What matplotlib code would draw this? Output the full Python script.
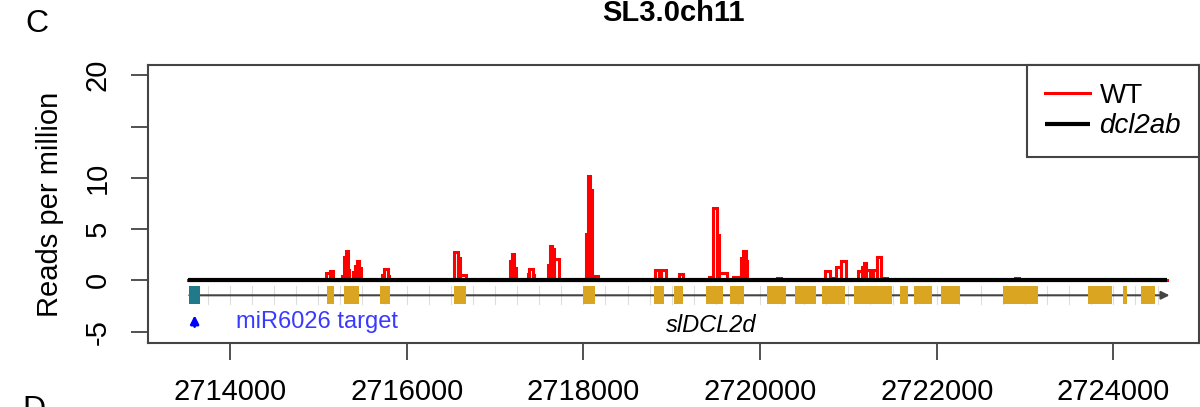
import matplotlib
matplotlib.use("Agg")
import matplotlib.pyplot as plt
import numpy as np

plt.rcParams["font.family"] = ["Liberation Sans", "DejaVu Sans"]

# WT coverage (reads per million) as step segments
wt_start = [2715090, 2715130, 2715270, 2715290, 2715310, 2715335, 2715395, 2715420, 2715440, 2715465,
            2715720, 2715740, 2715790, 2716536, 2716580, 2716600, 2717170, 2717190, 2717215,
            2717370, 2717385, 2717430, 2717600, 2717620, 2717650, 2717670,
            2718030, 2718050, 2718070, 2718100, 2718811, 2718860, 2718880, 2719085,
            2719420, 2719464, 2719517, 2719540, 2719690, 2719780, 2719810, 2719836,
            2720188, 2720300, 2720735, 2720790, 2720865, 2720920,
            2721112, 2721150, 2721177, 2721200, 2721280, 2721320, 2721370,
            2721520, 2721715, 2722890]
wt_end = [2715130, 2715170, 2715290, 2715310, 2715335, 2715350, 2715420, 2715440, 2715465, 2715480,
          2715740, 2715790, 2715805, 2716580, 2716600, 2716670, 2717190, 2717215, 2717240,
          2717385, 2717430, 2717445, 2717620, 2717650, 2717670, 2717720,
          2718050, 2718070, 2718100, 2718170, 2718860, 2718880, 2718930, 2719125,
          2719464, 2719517, 2719540, 2719630, 2719780, 2719810, 2719836, 2719855,
          2720240, 2720315, 2720790, 2720865, 2720920, 2720975,
          2721150, 2721177, 2721200, 2721245, 2721320, 2721370, 2721440,
          2721540, 2721730, 2722930]
wt_rpm = [0.7, 0.95, 0.4, 2.3, 2.9, 1.0, 0.8, 1.4, 1.85, 1.2,
          0.5, 1.1, 0.4, 2.8, 2.2, 0.5, 1.9, 2.6, 1.2,
          0.6, 1.1, 0.5, 1.5, 3.4, 3.1, 2.1,
          4.5, 10.2, 8.8, 0.4, 1.05, 0.5, 1.0, 0.6,
          0.35, 7.1, 4.45, 0.7, 0.3, 2.2, 2.9, 1.9,
          0.2, 0.15, 0.9, 0.2, 1.3, 1.85,
          0.9, 1.3, 1.7, 1.0, 1.05, 2.25, 0.2,
          0.15, 0.15, 0.2]

# region and gene model
region = [2713528, 2724611]
gene_start, gene_end = 2713540, 2724595
target_start, target_end = 2713540, 2713660
exon_start = [2715094, 2715294, 2715698, 2716536, 2718000, 2718795, 2719029, 2719389, 2719663,
              2720076, 2720400, 2720701, 2721065, 2721582, 2721748, 2722053, 2722750,
              2723710, 2724105, 2724315]
exon_end = [2715181, 2715464, 2715811, 2716668, 2718135, 2718917, 2719128, 2719582, 2719816,
            2720292, 2720629, 2720966, 2721496, 2721676, 2721941, 2722265, 2723150,
            2723985, 2724150, 2724470]

xticks = [2714000, 2716000, 2718000, 2720000, 2722000, 2724000]
yticks = [-5, 0, 5, 10, 15, 20]
ytick_labels = ["-5", "0", "5", "10", "", "20"]

fig = plt.figure(figsize=(12, 4.07), dpi=100)
ax = fig.add_axes([148 / 1200, 1 - 343 / 407, (1199 - 148) / 1200, (343 - 65) / 407])

# red WT step profile
xs = [region[0]]
ys = [0]
for s, e, v in zip(wt_start, wt_end, wt_rpm):
    xs += [s, s, e, e]
    ys += [0, v, v, 0]
xs.append(region[1])
ys.append(0)
ax.plot(xs, ys, color="red", lw=2.2, label="WT", solid_joinstyle="miter")
ax.plot(region, [0, 0], color="black", lw=3, label="dcl2ab", solid_capstyle="butt")

# gene track
band_lo, band_hi, track_y = -2.25, -0.5, -1.45
for g in np.arange(2713750, gene_end, 250):
    ax.plot([g, g], [band_lo, band_hi], color="#dddddd", lw=0.8, zorder=1)
ax.annotate("", xy=(gene_end + 40, track_y), xytext=(gene_start, track_y),
            arrowprops=dict(arrowstyle="-|>", color="#444444", lw=1.5, mutation_scale=12,
                            shrinkA=0, shrinkB=0), zorder=2)
ax.fill_between([target_start, target_end], band_lo, band_hi, color="#217a8a", zorder=3, lw=0)
for s, e in zip(exon_start, exon_end):
    ax.fill_between([s, e], band_lo, band_hi, color="#daa520", zorder=3, lw=0)

ax.annotate("", xy=(2713600, -3.4), xytext=(2713600, -4.5),
            arrowprops=dict(arrowstyle="-|>", color="blue", lw=2, mutation_scale=12,
                            shrinkA=0, shrinkB=0))
ax.text(2714070, -4.1, "miR6026 target", color="#3a3aff", fontsize=17, va="center", ha="left")
ax.text(2719450, -4.4, "slDCL2d", color="black", fontsize=17, style="italic",
        va="center", ha="center")

ax.set_xlim(2713072, 2724969)
ax.set_ylim(-6.1, 21)
ax.set_xticks(xticks)
ax.set_xticklabels([str(t) for t in xticks], fontsize=21)
ax.set_yticks(yticks)
ax.set_yticklabels(ytick_labels, fontsize=21, rotation=90, va="center")
ax.tick_params(axis="x", length=12, width=1.2, color="#333333", pad=13)
ax.tick_params(axis="y", length=12, width=1.2, color="#333333", pad=14)
for sp in ax.spines.values():
    sp.set_color("#444444")
    sp.set_linewidth(1.5)
ax.set_ylabel("Reads per million", fontsize=21, labelpad=14)

leg = ax.legend(loc="upper right", bbox_to_anchor=(1, 1), borderaxespad=0, fontsize=20,
                fancybox=False, edgecolor="#444444", framealpha=1, handlelength=1.6,
                handletextpad=0.35, borderpad=0.65, labelspacing=0.15)
leg.get_frame().set_linewidth(1.5)
leg.get_texts()[1].set_style("italic")

fig.text(673 / 1200, 1 - 21 / 407, "SL3.0ch11", fontsize=21, fontweight="bold",
         ha="center", va="baseline")
fig.text(25 / 1200, 1 - 32 / 407, "C", fontsize=23, ha="left", va="baseline")
fig.text(22 / 1200, 1 - 418 / 407, "D", fontsize=23, ha="left", va="baseline")

fig.savefig("out.png", dpi=100)
